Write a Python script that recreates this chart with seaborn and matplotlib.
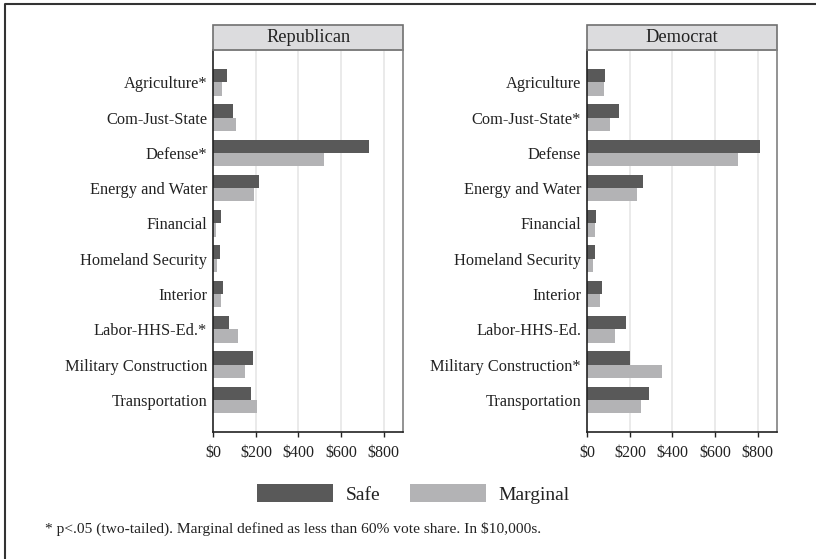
import numpy as np
import pandas as pd
import matplotlib
matplotlib.use("Agg")
import matplotlib.pyplot as plt
import seaborn as sns
from matplotlib.patches import Rectangle, Patch
from matplotlib.lines import Line2D

sns.set_style("white")
plt.rcParams['font.family'] = ['Liberation Serif', 'DejaVu Serif']

categories = ["Agriculture", "Com-Just-State", "Defense", "Energy and Water",
              "Financial", "Homeland Security", "Interior", "Labor-HHS-Ed.",
              "Military Construction", "Transportation"]
rep_labels = ["Agriculture*", "Com-Just-State", "Defense*", "Energy and Water",
              "Financial", "Homeland Security", "Interior", "Labor-HHS-Ed.*",
              "Military Construction", "Transportation"]
dem_labels = ["Agriculture", "Com-Just-State*", "Defense", "Energy and Water",
              "Financial", "Homeland Security", "Interior", "Labor-HHS-Ed.",
              "Military Construction*", "Transportation"]

rep_safe = [66, 94, 733, 215, 36, 31, 44, 75, 188, 176]
rep_marginal = [39, 108, 519, 191, 11, 16, 36, 118, 151, 204]
dem_safe = [83, 147, 812, 261, 42, 34, 69, 182, 199, 291]
dem_marginal = [80, 106, 709, 232, 34, 27, 58, 131, 351, 254]

groups = ["Safe", "Marginal"]
tick_values = [0, 200, 400, 600, 800]
tick_labels = [r"\$0", r"\$200", r"\$400", r"\$600", r"\$800"]
footnote = r"* p<.05 (two-tailed). Marginal defined as less than 60% vote share. In \$10,000s."

colors = {"Safe": "#595959", "Marginal": "#b3b3b5"}

W, H = 816, 559
fig = plt.figure(figsize=(W / 100, H / 100), dpi=100)


def make_df(safe, marginal):
    return pd.DataFrame({
        "category": categories * 2,
        "value": safe + marginal,
        "group": ["Safe"] * len(categories) + ["Marginal"] * len(categories),
    })


panels = [
    ("Republican", rep_safe, rep_marginal, rep_labels, 213.3),
    ("Democrat", dem_safe, dem_marginal, dem_labels, 587.3),
]

for title, safe, marginal, labels, x0 in panels:
    ax = fig.add_axes([x0 / W, (H - 432) / H, 189.5 / W, 382 / H])
    df = make_df(safe, marginal)
    sns.barplot(data=df, y="category", x="value", hue="group", orient="h",
                order=categories, hue_order=groups, palette=colors,
                width=0.755, saturation=1, linewidth=0, legend=False, ax=ax)
    ax.set_xlim(0, 890)
    ax.set_ylim(9.91, -0.915)
    ax.set_xticks(tick_values)
    ax.set_xticklabels(tick_labels)
    ax.set_yticklabels(labels)
    ax.set_xlabel("")
    ax.set_ylabel("")
    ax.set_axisbelow(True)
    for v in tick_values[1:]:
        ax.axvline(v, color="#e6e6e6", lw=1.2, zorder=0)
    ax.tick_params(axis="x", length=3.5, width=1, color="#222222", pad=6,
                   labelsize=11.5, labelcolor="#222222", direction="out", bottom=True)
    ax.tick_params(axis="y", length=0, pad=4.5, labelsize=11.8, labelcolor="#222222")
    for side in ["left", "bottom"]:
        ax.spines[side].set_color("#222222")
        ax.spines[side].set_linewidth(1.2)
    for side in ["top", "right"]:
        ax.spines[side].set_color("#808080")
        ax.spines[side].set_linewidth(1.2)
    # facet strip
    strip_h = 25 / 382
    ax.add_patch(Rectangle((0, 1), 1, strip_h, transform=ax.transAxes,
                           facecolor="#dcdcde", edgecolor="#707070", lw=1.2,
                           clip_on=False))
    ax.text(0.5, 1 + strip_h / 2, title, transform=ax.transAxes, ha="center",
            va="center", fontsize=13.2, color="#222222")

handles = [Patch(facecolor=colors[g], edgecolor="none") for g in groups]
fig.legend(handles, groups, loc="center", bbox_to_anchor=(413.5 / W, 1 - 494 / H),
           ncol=2, frameon=False, fontsize=14, handlelength=3.9, handleheight=1.05,
           handletextpad=0.68, columnspacing=1.5, borderpad=0, labelcolor="#222222")

fig.text(45 / W, 1 - 529 / H, footnote, ha="left", va="center", fontsize=11.1,
         color="#222222")

# outer frame (top and left edges visible)
fig.add_artist(Line2D([5 / W, 5 / W, 1], [0, 1 - 3.5 / H, 1 - 3.5 / H],
                      transform=fig.transFigure, color="#333333", lw=1.5))

fig.savefig("out.png", dpi=100)
